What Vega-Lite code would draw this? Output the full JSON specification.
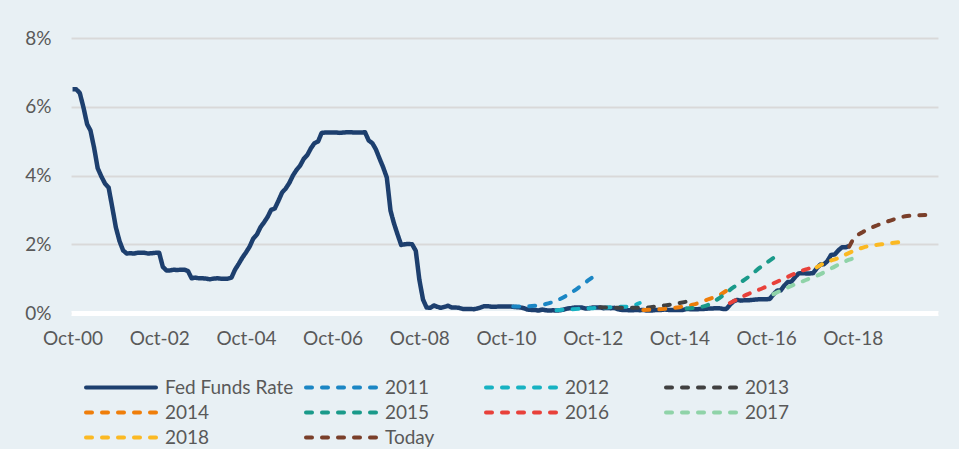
{
"$schema": "https://vega.github.io/schema/vega-lite/v6.json",
"autosize": {"type": "none"},
"width": 867, "height": 275,
"padding": {"left": 71, "top": 38, "right": 21, "bottom": 136},
"background": "#e8f0f4",
"config": {"view": {"stroke": null}, "font": "Lato"},
"data": {"values": [
{"s":"Fed Funds Rate","d":"2000-10-01","v":6.51},{"s":"Fed Funds Rate","d":"2000-11-01","v":6.51},{"s":"Fed Funds Rate","d":"2000-12-01","v":6.40},
{"s":"Fed Funds Rate","d":"2001-01-01","v":5.98},{"s":"Fed Funds Rate","d":"2001-02-01","v":5.49},{"s":"Fed Funds Rate","d":"2001-03-01","v":5.31},{"s":"Fed Funds Rate","d":"2001-04-01","v":4.80},{"s":"Fed Funds Rate","d":"2001-05-01","v":4.21},{"s":"Fed Funds Rate","d":"2001-06-01","v":3.97},{"s":"Fed Funds Rate","d":"2001-07-01","v":3.77},{"s":"Fed Funds Rate","d":"2001-08-01","v":3.65},{"s":"Fed Funds Rate","d":"2001-09-01","v":3.07},{"s":"Fed Funds Rate","d":"2001-10-01","v":2.49},{"s":"Fed Funds Rate","d":"2001-11-01","v":2.09},{"s":"Fed Funds Rate","d":"2001-12-01","v":1.82},
{"s":"Fed Funds Rate","d":"2002-01-01","v":1.73},{"s":"Fed Funds Rate","d":"2002-02-01","v":1.74},{"s":"Fed Funds Rate","d":"2002-03-01","v":1.73},{"s":"Fed Funds Rate","d":"2002-04-01","v":1.75},{"s":"Fed Funds Rate","d":"2002-05-01","v":1.75},{"s":"Fed Funds Rate","d":"2002-06-01","v":1.75},{"s":"Fed Funds Rate","d":"2002-07-01","v":1.73},{"s":"Fed Funds Rate","d":"2002-08-01","v":1.74},{"s":"Fed Funds Rate","d":"2002-09-01","v":1.75},{"s":"Fed Funds Rate","d":"2002-10-01","v":1.75},{"s":"Fed Funds Rate","d":"2002-11-01","v":1.34},{"s":"Fed Funds Rate","d":"2002-12-01","v":1.24},
{"s":"Fed Funds Rate","d":"2003-01-01","v":1.24},{"s":"Fed Funds Rate","d":"2003-02-01","v":1.26},{"s":"Fed Funds Rate","d":"2003-03-01","v":1.25},{"s":"Fed Funds Rate","d":"2003-04-01","v":1.26},{"s":"Fed Funds Rate","d":"2003-05-01","v":1.26},{"s":"Fed Funds Rate","d":"2003-06-01","v":1.22},{"s":"Fed Funds Rate","d":"2003-07-01","v":1.01},{"s":"Fed Funds Rate","d":"2003-08-01","v":1.03},{"s":"Fed Funds Rate","d":"2003-09-01","v":1.01},{"s":"Fed Funds Rate","d":"2003-10-01","v":1.01},{"s":"Fed Funds Rate","d":"2003-11-01","v":1.00},{"s":"Fed Funds Rate","d":"2003-12-01","v":0.98},
{"s":"Fed Funds Rate","d":"2004-01-01","v":1.00},{"s":"Fed Funds Rate","d":"2004-02-01","v":1.01},{"s":"Fed Funds Rate","d":"2004-03-01","v":1.00},{"s":"Fed Funds Rate","d":"2004-04-01","v":1.00},{"s":"Fed Funds Rate","d":"2004-05-01","v":1.00},{"s":"Fed Funds Rate","d":"2004-06-01","v":1.03},{"s":"Fed Funds Rate","d":"2004-07-01","v":1.26},{"s":"Fed Funds Rate","d":"2004-08-01","v":1.43},{"s":"Fed Funds Rate","d":"2004-09-01","v":1.61},{"s":"Fed Funds Rate","d":"2004-10-01","v":1.76},{"s":"Fed Funds Rate","d":"2004-11-01","v":1.93},{"s":"Fed Funds Rate","d":"2004-12-01","v":2.16},
{"s":"Fed Funds Rate","d":"2005-01-01","v":2.28},{"s":"Fed Funds Rate","d":"2005-02-01","v":2.50},{"s":"Fed Funds Rate","d":"2005-03-01","v":2.63},{"s":"Fed Funds Rate","d":"2005-04-01","v":2.79},{"s":"Fed Funds Rate","d":"2005-05-01","v":3.00},{"s":"Fed Funds Rate","d":"2005-06-01","v":3.04},{"s":"Fed Funds Rate","d":"2005-07-01","v":3.26},{"s":"Fed Funds Rate","d":"2005-08-01","v":3.50},{"s":"Fed Funds Rate","d":"2005-09-01","v":3.62},{"s":"Fed Funds Rate","d":"2005-10-01","v":3.78},{"s":"Fed Funds Rate","d":"2005-11-01","v":4.00},{"s":"Fed Funds Rate","d":"2005-12-01","v":4.16},
{"s":"Fed Funds Rate","d":"2006-01-01","v":4.29},{"s":"Fed Funds Rate","d":"2006-02-01","v":4.49},{"s":"Fed Funds Rate","d":"2006-03-01","v":4.59},{"s":"Fed Funds Rate","d":"2006-04-01","v":4.79},{"s":"Fed Funds Rate","d":"2006-05-01","v":4.94},{"s":"Fed Funds Rate","d":"2006-06-01","v":4.99},{"s":"Fed Funds Rate","d":"2006-07-01","v":5.24},{"s":"Fed Funds Rate","d":"2006-08-01","v":5.25},{"s":"Fed Funds Rate","d":"2006-09-01","v":5.25},{"s":"Fed Funds Rate","d":"2006-10-01","v":5.25},{"s":"Fed Funds Rate","d":"2006-11-01","v":5.25},{"s":"Fed Funds Rate","d":"2006-12-01","v":5.24},
{"s":"Fed Funds Rate","d":"2007-01-01","v":5.25},{"s":"Fed Funds Rate","d":"2007-02-01","v":5.26},{"s":"Fed Funds Rate","d":"2007-03-01","v":5.26},{"s":"Fed Funds Rate","d":"2007-04-01","v":5.25},{"s":"Fed Funds Rate","d":"2007-05-01","v":5.25},{"s":"Fed Funds Rate","d":"2007-06-01","v":5.25},{"s":"Fed Funds Rate","d":"2007-07-01","v":5.26},{"s":"Fed Funds Rate","d":"2007-08-01","v":5.02},{"s":"Fed Funds Rate","d":"2007-09-01","v":4.94},{"s":"Fed Funds Rate","d":"2007-10-01","v":4.76},{"s":"Fed Funds Rate","d":"2007-11-01","v":4.49},{"s":"Fed Funds Rate","d":"2007-12-01","v":4.24},
{"s":"Fed Funds Rate","d":"2008-01-01","v":3.94},{"s":"Fed Funds Rate","d":"2008-02-01","v":2.98},{"s":"Fed Funds Rate","d":"2008-03-01","v":2.61},{"s":"Fed Funds Rate","d":"2008-04-01","v":2.28},{"s":"Fed Funds Rate","d":"2008-05-01","v":1.98},{"s":"Fed Funds Rate","d":"2008-06-01","v":2.00},{"s":"Fed Funds Rate","d":"2008-07-01","v":2.01},{"s":"Fed Funds Rate","d":"2008-08-01","v":2.00},{"s":"Fed Funds Rate","d":"2008-09-01","v":1.81},{"s":"Fed Funds Rate","d":"2008-10-01","v":0.97},{"s":"Fed Funds Rate","d":"2008-11-01","v":0.39},{"s":"Fed Funds Rate","d":"2008-12-01","v":0.16},
{"s":"Fed Funds Rate","d":"2009-01-01","v":0.15},{"s":"Fed Funds Rate","d":"2009-02-01","v":0.22},{"s":"Fed Funds Rate","d":"2009-03-01","v":0.18},{"s":"Fed Funds Rate","d":"2009-04-01","v":0.15},{"s":"Fed Funds Rate","d":"2009-05-01","v":0.18},{"s":"Fed Funds Rate","d":"2009-06-01","v":0.21},{"s":"Fed Funds Rate","d":"2009-07-01","v":0.16},{"s":"Fed Funds Rate","d":"2009-08-01","v":0.16},{"s":"Fed Funds Rate","d":"2009-09-01","v":0.15},{"s":"Fed Funds Rate","d":"2009-10-01","v":0.12},{"s":"Fed Funds Rate","d":"2009-11-01","v":0.12},{"s":"Fed Funds Rate","d":"2009-12-01","v":0.12},
{"s":"Fed Funds Rate","d":"2010-01-01","v":0.11},{"s":"Fed Funds Rate","d":"2010-02-01","v":0.13},{"s":"Fed Funds Rate","d":"2010-03-01","v":0.16},{"s":"Fed Funds Rate","d":"2010-04-01","v":0.20},{"s":"Fed Funds Rate","d":"2010-05-01","v":0.20},{"s":"Fed Funds Rate","d":"2010-06-01","v":0.18},{"s":"Fed Funds Rate","d":"2010-07-01","v":0.18},{"s":"Fed Funds Rate","d":"2010-08-01","v":0.19},{"s":"Fed Funds Rate","d":"2010-09-01","v":0.19},{"s":"Fed Funds Rate","d":"2010-10-01","v":0.19},{"s":"Fed Funds Rate","d":"2010-11-01","v":0.19},{"s":"Fed Funds Rate","d":"2010-12-01","v":0.18},
{"s":"Fed Funds Rate","d":"2011-01-01","v":0.17},{"s":"Fed Funds Rate","d":"2011-02-01","v":0.16},{"s":"Fed Funds Rate","d":"2011-03-01","v":0.14},{"s":"Fed Funds Rate","d":"2011-04-01","v":0.10},{"s":"Fed Funds Rate","d":"2011-05-01","v":0.09},{"s":"Fed Funds Rate","d":"2011-06-01","v":0.09},{"s":"Fed Funds Rate","d":"2011-07-01","v":0.07},{"s":"Fed Funds Rate","d":"2011-08-01","v":0.10},{"s":"Fed Funds Rate","d":"2011-09-01","v":0.08},{"s":"Fed Funds Rate","d":"2011-10-01","v":0.07},{"s":"Fed Funds Rate","d":"2011-11-01","v":0.08},{"s":"Fed Funds Rate","d":"2011-12-01","v":0.07},
{"s":"Fed Funds Rate","d":"2012-01-01","v":0.08},{"s":"Fed Funds Rate","d":"2012-02-01","v":0.10},{"s":"Fed Funds Rate","d":"2012-03-01","v":0.13},{"s":"Fed Funds Rate","d":"2012-04-01","v":0.14},{"s":"Fed Funds Rate","d":"2012-05-01","v":0.16},{"s":"Fed Funds Rate","d":"2012-06-01","v":0.16},{"s":"Fed Funds Rate","d":"2012-07-01","v":0.16},{"s":"Fed Funds Rate","d":"2012-08-01","v":0.13},{"s":"Fed Funds Rate","d":"2012-09-01","v":0.14},{"s":"Fed Funds Rate","d":"2012-10-01","v":0.16},{"s":"Fed Funds Rate","d":"2012-11-01","v":0.16},{"s":"Fed Funds Rate","d":"2012-12-01","v":0.16},
{"s":"Fed Funds Rate","d":"2013-01-01","v":0.14},{"s":"Fed Funds Rate","d":"2013-02-01","v":0.15},{"s":"Fed Funds Rate","d":"2013-03-01","v":0.14},{"s":"Fed Funds Rate","d":"2013-04-01","v":0.15},{"s":"Fed Funds Rate","d":"2013-05-01","v":0.11},{"s":"Fed Funds Rate","d":"2013-06-01","v":0.09},{"s":"Fed Funds Rate","d":"2013-07-01","v":0.09},{"s":"Fed Funds Rate","d":"2013-08-01","v":0.08},{"s":"Fed Funds Rate","d":"2013-09-01","v":0.08},{"s":"Fed Funds Rate","d":"2013-10-01","v":0.09},{"s":"Fed Funds Rate","d":"2013-11-01","v":0.08},{"s":"Fed Funds Rate","d":"2013-12-01","v":0.09},
{"s":"Fed Funds Rate","d":"2014-01-01","v":0.07},{"s":"Fed Funds Rate","d":"2014-02-01","v":0.07},{"s":"Fed Funds Rate","d":"2014-03-01","v":0.08},{"s":"Fed Funds Rate","d":"2014-04-01","v":0.09},{"s":"Fed Funds Rate","d":"2014-05-01","v":0.09},{"s":"Fed Funds Rate","d":"2014-06-01","v":0.10},{"s":"Fed Funds Rate","d":"2014-07-01","v":0.09},{"s":"Fed Funds Rate","d":"2014-08-01","v":0.09},{"s":"Fed Funds Rate","d":"2014-09-01","v":0.09},{"s":"Fed Funds Rate","d":"2014-10-01","v":0.09},{"s":"Fed Funds Rate","d":"2014-11-01","v":0.09},{"s":"Fed Funds Rate","d":"2014-12-01","v":0.12},
{"s":"Fed Funds Rate","d":"2015-01-01","v":0.11},{"s":"Fed Funds Rate","d":"2015-02-01","v":0.11},{"s":"Fed Funds Rate","d":"2015-03-01","v":0.11},{"s":"Fed Funds Rate","d":"2015-04-01","v":0.12},{"s":"Fed Funds Rate","d":"2015-05-01","v":0.12},{"s":"Fed Funds Rate","d":"2015-06-01","v":0.13},{"s":"Fed Funds Rate","d":"2015-07-01","v":0.13},{"s":"Fed Funds Rate","d":"2015-08-01","v":0.14},{"s":"Fed Funds Rate","d":"2015-09-01","v":0.14},{"s":"Fed Funds Rate","d":"2015-10-01","v":0.12},{"s":"Fed Funds Rate","d":"2015-11-01","v":0.12},{"s":"Fed Funds Rate","d":"2015-12-01","v":0.24},
{"s":"Fed Funds Rate","d":"2016-01-01","v":0.34},{"s":"Fed Funds Rate","d":"2016-02-01","v":0.38},{"s":"Fed Funds Rate","d":"2016-03-01","v":0.36},{"s":"Fed Funds Rate","d":"2016-04-01","v":0.37},{"s":"Fed Funds Rate","d":"2016-05-01","v":0.37},{"s":"Fed Funds Rate","d":"2016-06-01","v":0.38},{"s":"Fed Funds Rate","d":"2016-07-01","v":0.39},{"s":"Fed Funds Rate","d":"2016-08-01","v":0.40},{"s":"Fed Funds Rate","d":"2016-09-01","v":0.40},{"s":"Fed Funds Rate","d":"2016-10-01","v":0.40},{"s":"Fed Funds Rate","d":"2016-11-01","v":0.41},{"s":"Fed Funds Rate","d":"2016-12-01","v":0.54},
{"s":"Fed Funds Rate","d":"2017-01-01","v":0.65},{"s":"Fed Funds Rate","d":"2017-02-01","v":0.66},{"s":"Fed Funds Rate","d":"2017-03-01","v":0.79},{"s":"Fed Funds Rate","d":"2017-04-01","v":0.90},{"s":"Fed Funds Rate","d":"2017-05-01","v":0.91},{"s":"Fed Funds Rate","d":"2017-06-01","v":1.04},{"s":"Fed Funds Rate","d":"2017-07-01","v":1.15},{"s":"Fed Funds Rate","d":"2017-08-01","v":1.16},{"s":"Fed Funds Rate","d":"2017-09-01","v":1.15},{"s":"Fed Funds Rate","d":"2017-10-01","v":1.15},{"s":"Fed Funds Rate","d":"2017-11-01","v":1.16},{"s":"Fed Funds Rate","d":"2017-12-01","v":1.30},
{"s":"Fed Funds Rate","d":"2018-01-01","v":1.41},{"s":"Fed Funds Rate","d":"2018-02-01","v":1.42},{"s":"Fed Funds Rate","d":"2018-03-01","v":1.51},{"s":"Fed Funds Rate","d":"2018-04-01","v":1.69},{"s":"Fed Funds Rate","d":"2018-05-01","v":1.70},{"s":"Fed Funds Rate","d":"2018-06-01","v":1.82},{"s":"Fed Funds Rate","d":"2018-07-01","v":1.91},{"s":"Fed Funds Rate","d":"2018-08-01","v":1.91},{"s":"Fed Funds Rate","d":"2018-09-01","v":1.95},
{"s":"2011","d":"2010-12-01","v":0.19},{"s":"2011","d":"2011-03-01","v":0.19},{"s":"2011","d":"2011-06-01","v":0.21},{"s":"2011","d":"2011-09-01","v":0.26},{"s":"2011","d":"2011-12-01","v":0.36},{"s":"2011","d":"2012-03-01","v":0.52},{"s":"2011","d":"2012-06-01","v":0.73},{"s":"2011","d":"2012-09-01","v":0.97},{"s":"2011","d":"2012-11-01","v":1.12},
{"s":"2012","d":"2011-12-01","v":0.08},{"s":"2012","d":"2012-06-01","v":0.12},{"s":"2012","d":"2012-12-01","v":0.15},{"s":"2012","d":"2013-06-01","v":0.18},{"s":"2012","d":"2013-08-01","v":0.19},{"s":"2012","d":"2013-11-01","v":0.29},
{"s":"2013","d":"2012-12-01","v":0.17},{"s":"2013","d":"2013-06-01","v":0.15},{"s":"2013","d":"2013-12-01","v":0.15},{"s":"2013","d":"2014-02-01","v":0.17},{"s":"2013","d":"2014-06-01","v":0.22},{"s":"2013","d":"2014-10-01","v":0.29},{"s":"2013","d":"2014-12-01","v":0.33},
{"s":"2014","d":"2013-12-01","v":0.09},{"s":"2014","d":"2014-06-01","v":0.12},{"s":"2014","d":"2014-10-01","v":0.17},{"s":"2014","d":"2015-02-01","v":0.25},{"s":"2014","d":"2015-06-01","v":0.40},{"s":"2014","d":"2015-09-01","v":0.52},{"s":"2014","d":"2015-12-01","v":0.72},
{"s":"2015","d":"2014-12-01","v":0.13},{"s":"2015","d":"2015-05-01","v":0.20},{"s":"2015","d":"2015-09-01","v":0.43},{"s":"2015","d":"2016-01-01","v":0.75},{"s":"2015","d":"2016-05-01","v":1.04},{"s":"2015","d":"2016-09-01","v":1.38},{"s":"2015","d":"2016-12-01","v":1.60},
{"s":"2016","d":"2015-12-01","v":0.29},{"s":"2016","d":"2016-05-01","v":0.55},{"s":"2016","d":"2016-09-01","v":0.72},{"s":"2016","d":"2017-01-01","v":0.91},{"s":"2016","d":"2017-05-01","v":1.10},{"s":"2016","d":"2017-09-01","v":1.27},{"s":"2016","d":"2017-11-01","v":1.32},
{"s":"2017","d":"2016-12-01","v":0.55},{"s":"2017","d":"2017-05-01","v":0.79},{"s":"2017","d":"2017-09-01","v":0.96},{"s":"2017","d":"2018-01-01","v":1.13},{"s":"2017","d":"2018-05-01","v":1.35},{"s":"2017","d":"2018-09-01","v":1.55},{"s":"2017","d":"2018-11-01","v":1.62},
{"s":"2018","d":"2017-12-01","v":1.33},{"s":"2018","d":"2018-02-01","v":1.45},{"s":"2018","d":"2018-06-01","v":1.60},{"s":"2018","d":"2018-09-01","v":1.75},{"s":"2018","d":"2019-01-01","v":1.91},{"s":"2018","d":"2019-06-01","v":2.00},{"s":"2018","d":"2019-11-01","v":2.06},
{"s":"Today","d":"2018-09-01","v":1.93},{"s":"Today","d":"2018-10-01","v":2.12},{"s":"Today","d":"2019-01-01","v":2.37},{"s":"Today","d":"2019-05-01","v":2.56},{"s":"Today","d":"2019-09-01","v":2.71},{"s":"Today","d":"2020-01-01","v":2.82},{"s":"Today","d":"2020-07-01","v":2.85}
]},
"encoding": {
  "x": {"field": "d", "type": "temporal",
    "scale": {"type": "utc", "domain": [{"year": 2000, "month": 9, "date": 18, "utc": true}, {"year": 2020, "month": 9, "date": 18, "utc": true}]},
    "axis": {"title": null, "format": "%b-%y", "grid": false, "ticks": false, "domainColor": "#ffffff", "domainWidth": 5,
      "labelFont": "Lato", "labelFontSize": 19, "labelColor": "#595959", "labelPadding": 16, "labelFlush": false, "labelOverlap": false,
      "values": [
        {"year": 2000, "month": 10, "date": 1, "utc": true},
        {"year": 2002, "month": 10, "date": 1, "utc": true},
        {"year": 2004, "month": 10, "date": 1, "utc": true},
        {"year": 2006, "month": 10, "date": 1, "utc": true},
        {"year": 2008, "month": 10, "date": 1, "utc": true},
        {"year": 2010, "month": 10, "date": 1, "utc": true},
        {"year": 2012, "month": 10, "date": 1, "utc": true},
        {"year": 2014, "month": 10, "date": 1, "utc": true},
        {"year": 2016, "month": 10, "date": 1, "utc": true},
        {"year": 2018, "month": 10, "date": 1, "utc": true}
      ]}},
  "y": {"field": "v", "type": "quantitative",
    "scale": {"domain": [0, 8], "nice": false, "zero": true},
    "axis": {"title": null, "values": [0, 2, 4, 6, 8], "labelExpr": "datum.value + '%'", "grid": true, "gridColor": "#d9d9d9", "gridWidth": 2,
      "domain": false, "ticks": false, "labelPadding": 20, "labelFlush": false,
      "labelFont": "Lato", "labelFontSize": 19, "labelColor": "#595959"}},
  "color": {"field": "s", "type": "nominal",
    "scale": {"domain": ["Fed Funds Rate", "2011", "2012", "2013", "2014", "2015", "2016", "2017", "2018", "Today"],
      "range": ["#1d3f6e", "#1b86c4", "#17b2c2", "#404040", "#ef7e0a", "#1a9a8a", "#e8413a", "#8fd3a8", "#fbb923", "#7a3f2a"]},
    "legend": {"title": null, "orient": "none", "direction": "horizontal", "legendX": 13, "legendY": 337, "columns": 4, "columnPadding": 10, "rowPadding": 0, "padding": 0, "clipHeight": 25,
      "symbolType": "stroke", "symbolSize": 4900, "symbolStrokeWidth": 4,
      "labelFont": "Lato", "labelFontSize": 19, "labelColor": "#595959", "labelOffset": 7, "labelLimit": 300,
      "encode": {"entries": {"update": {"width": {"value": 170}, "height": {"value": 25}}}, "symbols": {"update": {"strokeCap": {"value": "round"}}}}}},
  "strokeDash": {"field": "s", "type": "nominal",
    "scale": {"domain": ["Fed Funds Rate", "2011", "2012", "2013", "2014", "2015", "2016", "2017", "2018", "Today"],
      "range": [[1, 0], [6, 10], [6, 10], [6, 10], [6, 10], [6, 10], [6, 10], [6, 10], [6, 10], [6, 10]]},
    "legend": {"title": null, "orient": "none", "direction": "horizontal", "legendX": 13, "legendY": 337, "columns": 4, "columnPadding": 10, "rowPadding": 0, "padding": 0, "clipHeight": 25,
      "symbolType": "stroke", "symbolSize": 4900, "symbolStrokeWidth": 4,
      "labelFont": "Lato", "labelFontSize": 19, "labelColor": "#595959", "labelOffset": 7, "labelLimit": 300,
      "encode": {"entries": {"update": {"width": {"value": 170}, "height": {"value": 25}}}, "symbols": {"update": {"strokeCap": {"value": "round"}}}}}}
},
"layer": [
  {"transform": [{"filter": "datum.s === 'Fed Funds Rate'"}],
   "mark": {"type": "line", "strokeWidth": 4.5, "strokeJoin": "round"}},
  {"transform": [{"filter": "datum.s !== 'Fed Funds Rate'"}],
   "mark": {"type": "line", "strokeWidth": 4, "strokeCap": "round", "strokeJoin": "round", "interpolate": "monotone"}}
]
}
